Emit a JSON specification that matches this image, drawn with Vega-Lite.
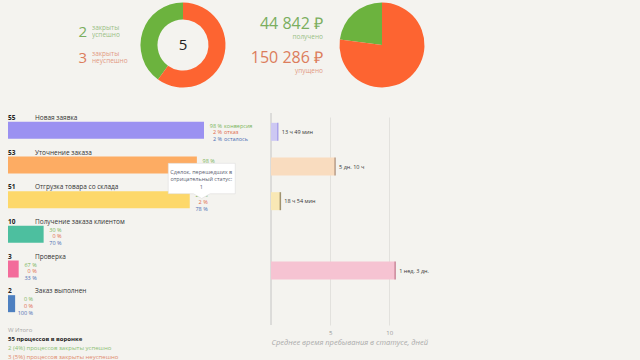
{
  "$schema": "https://vega.github.io/schema/vega-lite/v6.json",
  "background": "#f4f3ef",
  "padding": 0,
  "config": {"view": {"stroke": null}, "font": "Open Sans"},
  "datasets": {
    "stages": [
      {"stage": "Новая заявка", "count": 55, "conv": "98 %", "lost": "2 %", "remain": "2 %", "convWord": "конверсия", "lostWord": "отказ", "remainWord": "осталось", "days": 0.576, "time": "13 ч 49 мин"},
      {"stage": "Уточнение заказа", "count": 53, "conv": "98 %", "lost": "2 %", "remain": "0 %", "convWord": "", "lostWord": "", "remainWord": "", "days": 5.42, "time": "5 дн. 10 ч"},
      {"stage": "Отгрузка товара со склада", "count": 51, "conv": "20 %", "lost": "2 %", "remain": "78 %", "convWord": "", "lostWord": "", "remainWord": "", "days": 0.79, "time": "18 ч 54 мин"},
      {"stage": "Получение заказа клиентом", "count": 10, "conv": "30 %", "lost": "0 %", "remain": "70 %", "convWord": "", "lostWord": "", "remainWord": "", "days": null, "time": ""},
      {"stage": "Проверка", "count": 3, "conv": "67 %", "lost": "0 %", "remain": "33 %", "convWord": "", "lostWord": "", "remainWord": "", "days": 10.5, "time": "1 нед. 3 дн."},
      {"stage": "Заказ выполнен", "count": 2, "conv": "0 %", "lost": "0 %", "remain": "100 %", "convWord": "", "lostWord": "", "remainWord": "", "days": null, "time": ""}
    ],
    "counts": [
      {"outcome": "success", "n": 2, "value": "2", "label": "закрыты\nуспешно"},
      {"outcome": "fail", "n": 3, "value": "3", "label": "закрыты\nнеуспешно"}
    ],
    "money": [
      {"outcome": "success", "rub": 44842, "value": "44 842 ₽", "label": "получено"},
      {"outcome": "fail", "rub": 150286, "value": "150 286 ₽", "label": "упущено"}
    ],
    "footer": [
      {"line": 1, "text": "W  Итого"},
      {"line": 2, "text": "55 процессов в воронке"},
      {"line": 3, "text": "2 (4%) процессов закрыты успешно"},
      {"line": 4, "text": "3 (5%) процессов закрыты неуспешно"}
    ]
  },
  "spacing": 22,
  "vconcat": [
    {
      "bounds": "flush",
      "spacing": 0,
      "resolve": {"scale": {"color": "independent", "y": "independent", "x": "independent", "theta": "independent"}},
      "hconcat": [
        {
          "width": 138, "height": 90,
          "data": {"name": "counts"},
          "encoding": {
            "y": {"field": "outcome", "type": "nominal", "scale": {"type": "point", "domain": ["success", "fail"], "range": [31.5, 57.5], "padding": 0}, "axis": null},
            "color": {"field": "outcome", "type": "nominal", "scale": {"domain": ["success", "fail"], "range": ["#7aae5e", "#dc7d5c"]}, "legend": null}
          },
          "layer": [
            {"mark": {"type": "text", "align": "right", "baseline": "middle", "fontSize": 15, "dx": 18}, "encoding": {"text": {"field": "value"}}},
            {"mark": {"type": "text", "align": "left", "baseline": "middle", "fontSize": 6.5, "lineHeight": 7.5, "lineBreak": "\n", "dx": 23, "dy": -4, "opacity": 0.75}, "encoding": {"text": {"field": "label"}}}
          ]
        },
        {
          "width": 90, "height": 90,
          "layer": [
            {
              "data": {"name": "counts"},
              "mark": {"type": "arc", "innerRadius": 25.5, "outerRadius": 42.5},
              "encoding": {
                "theta": {"field": "n", "type": "quantitative"},
                "order": {"field": "outcome", "sort": "ascending"},
                "color": {"field": "outcome", "type": "nominal", "scale": {"domain": ["success", "fail"], "range": ["#6cb33e", "#fd6431"]}, "legend": null}
              }
            },
            {
              "data": {"values": [{"total": "5"}]},
              "mark": {"type": "text", "fontSize": 15, "color": "#222222", "baseline": "middle"},
              "encoding": {"text": {"field": "total"}}
            }
          ]
        },
        {
          "width": 109, "height": 90,
          "data": {"name": "money"},
          "encoding": {
            "y": {"field": "outcome", "type": "nominal", "scale": {"type": "point", "domain": ["success", "fail"], "range": [24, 57.5], "padding": 0}, "axis": null},
            "color": {"field": "outcome", "type": "nominal", "scale": {"domain": ["success", "fail"], "range": ["#7aae5e", "#dc7d5c"]}, "legend": null}
          },
          "layer": [
            {"mark": {"type": "text", "align": "right", "baseline": "middle", "fontSize": 16, "dx": 40.5}, "encoding": {"text": {"field": "value"}}},
            {"mark": {"type": "text", "align": "right", "baseline": "middle", "fontSize": 6.5, "dx": 40.5, "dy": 13, "opacity": 0.75}, "encoding": {"text": {"field": "label"}}}
          ]
        },
        {
          "width": 90, "height": 90,
          "data": {"name": "money"},
          "mark": {"type": "arc", "outerRadius": 42.5},
          "encoding": {
            "theta": {"field": "rub", "type": "quantitative"},
            "order": {"field": "outcome", "sort": "ascending"},
            "color": {"field": "outcome", "type": "nominal", "scale": {"domain": ["success", "fail"], "range": ["#6cb33e", "#fd6431"]}, "legend": null}
          }
        }
      ]
    },
    {
      "bounds": "flush",
      "spacing": 67,
      "resolve": {"scale": {"color": "independent", "y": "independent", "x": "independent"}},
      "hconcat": [
        {
          "width": 204, "height": 208,
          "resolve": {"scale": {"y": "independent", "color": "independent"}},
          "layer": [
            {
              "data": {"name": "stages"},
              "layer": [
                {
                  "mark": {"type": "bar", "height": 17},
                  "encoding": {
                    "x": {"field": "count", "type": "quantitative", "scale": {"domain": [0, 55], "range": [8, 204]}, "axis": null},
                    "y": {"field": "stage", "type": "nominal", "scale": {"domain": ["Новая заявка", "Уточнение заказа", "Отгрузка товара со склада", "Получение заказа клиентом", "Проверка", "Заказ выполнен"], "paddingInner": 0, "paddingOuter": 0}, "axis": null},
                    "color": {"field": "stage", "type": "nominal", "scale": {"domain": ["Новая заявка", "Уточнение заказа", "Отгрузка товара со склада", "Получение заказа клиентом", "Проверка", "Заказ выполнен"], "range": ["#9b91f1", "#fdac63", "#fdd86a", "#4dbf9f", "#f36c9b", "#4e80c0"]}, "legend": null}
                  }
                },
                {
                  "mark": {"type": "text", "align": "left", "baseline": "middle", "fontSize": 6.5, "fontWeight": "bold", "color": "#222222", "dy": 5},
                  "encoding": {
                    "x": {"datum": 0, "type": "quantitative"},
                    "y": {"field": "stage", "type": "nominal", "bandPosition": 0},
                    "text": {"field": "count"}
                  }
                },
                {
                  "mark": {"type": "text", "align": "left", "baseline": "middle", "fontSize": 6.5, "color": "#333333", "dx": 27, "dy": 5},
                  "encoding": {
                    "x": {"datum": 0, "type": "quantitative"},
                    "y": {"field": "stage", "type": "nominal", "bandPosition": 0},
                    "text": {"field": "stage"}
                  }
                },
                {
                  "mark": {"type": "text", "align": "right", "baseline": "middle", "fontSize": 5.5, "color": "#79b45a", "dx": 18, "dy": -4.5},
                  "encoding": {"x": {"field": "count", "type": "quantitative"}, "y": {"field": "stage", "type": "nominal"}, "text": {"field": "conv"}}
                },
                {
                  "mark": {"type": "text", "align": "left", "baseline": "middle", "fontSize": 5.5, "color": "#79b45a", "dx": 20, "dy": -4.5},
                  "encoding": {"x": {"field": "count", "type": "quantitative"}, "y": {"field": "stage", "type": "nominal"}, "text": {"field": "convWord"}}
                },
                {
                  "mark": {"type": "text", "align": "right", "baseline": "middle", "fontSize": 5.5, "color": "#e0694a", "dx": 18, "dy": 2},
                  "encoding": {"x": {"field": "count", "type": "quantitative"}, "y": {"field": "stage", "type": "nominal"}, "text": {"field": "lost"}}
                },
                {
                  "mark": {"type": "text", "align": "left", "baseline": "middle", "fontSize": 5.5, "color": "#e0694a", "dx": 20, "dy": 2},
                  "encoding": {"x": {"field": "count", "type": "quantitative"}, "y": {"field": "stage", "type": "nominal"}, "text": {"field": "lostWord"}}
                },
                {
                  "mark": {"type": "text", "align": "right", "baseline": "middle", "fontSize": 5.5, "color": "#4b6db3", "dx": 18, "dy": 9},
                  "encoding": {"x": {"field": "count", "type": "quantitative"}, "y": {"field": "stage", "type": "nominal"}, "text": {"field": "remain"}}
                },
                {
                  "mark": {"type": "text", "align": "left", "baseline": "middle", "fontSize": 5.5, "color": "#4b6db3", "dx": 20, "dy": 9},
                  "encoding": {"x": {"field": "count", "type": "quantitative"}, "y": {"field": "stage", "type": "nominal"}, "text": {"field": "remainWord"}}
                },
                {
                  "data": {"values": [{"stage": "Отгрузка товара со склада", "count": 51, "tip": "Сделок, перешедших в\nотрицательный статус:\n1"}]},
                  "mark": {"type": "point", "filled": true, "shape": "M-1,-0.418L1,-0.418L1,0.49L0.25,0.49L0,0.63L-0.25,0.49L-1,0.49Z", "size": 4489, "fill": "#ffffff", "stroke": "#d8d8d8", "strokeWidth": 0.5, "opacity": 1, "xOffset": 12, "yOffset": -5},
                  "encoding": {
                    "x": {"field": "count", "type": "quantitative"},
                    "y": {"field": "stage", "type": "nominal", "bandPosition": 0}
                  }
                },
                {
                  "data": {"values": [{"stage": "Отгрузка товара со склада", "count": 51, "tip": "Сделок, перешедших в\nотрицательный статус:\n1"}]},
                  "mark": {"type": "text", "align": "center", "baseline": "middle", "fontSize": 5.5, "lineHeight": 7.5, "lineBreak": "\n", "color": "#5a6070", "dx": 11.5, "dy": -10.5},
                  "encoding": {
                    "x": {"field": "count", "type": "quantitative"},
                    "y": {"field": "stage", "type": "nominal", "bandPosition": 0},
                    "text": {"field": "tip"}
                  }
                }
              ]
            },
            {
              "data": {"name": "footer"},
              "encoding": {
                "y": {"field": "line", "type": "ordinal", "scale": {"type": "point", "domain": [1, 2, 3, 4], "range": [216.5, 243.5], "padding": 0}, "axis": null},
                "color": {"field": "line", "type": "ordinal", "scale": {"domain": [1, 2, 3, 4], "range": ["#a8a8a8", "#222222", "#8cbf74", "#e08a6c"]}, "legend": null},
                "text": {"field": "text"}
              },
              "layer": [
                {"transform": [{"filter": "datum.line != 2"}], "mark": {"type": "text", "align": "left", "baseline": "middle", "fontSize": 6, "dx": -94}},
                {"transform": [{"filter": "datum.line == 2"}], "mark": {"type": "text", "align": "left", "baseline": "middle", "fontSize": 6, "fontWeight": "bold", "dx": -94}}
              ]
            }
          ]
        },
        {
          "width": 369, "height": 212,
          "layer": [
            {
              "data": {"values": [{"origin": 0}]},
              "mark": {"type": "rule", "color": "#c4c4c4", "strokeWidth": 1},
              "encoding": {"x": {"field": "origin", "type": "quantitative"}}
            },
            {
              "data": {"name": "stages"},
              "mark": {"type": "bar", "height": 18, "yOffset": 1.5},
              "encoding": {
                "x": {"field": "days", "type": "quantitative", "scale": {"domain": [0, 31.2], "nice": false}, "axis": {"values": [5, 10], "grid": true, "gridColor": "#e2e1dd", "domain": false, "ticks": false, "labelColor": "#999999", "labelFontSize": 6, "labelPadding": 4, "title": "Среднее время пребывания в статусе, дней", "titleFontSize": 7.5, "titleFontStyle": "italic", "titleFontWeight": "normal", "titleColor": "#aaaaaa", "titleAnchor": "start", "titleAlign": "left", "titlePadding": 3}},
                "y": {"field": "stage", "type": "nominal", "scale": {"domain": ["Новая заявка", "Уточнение заказа", "Отгрузка товара со склада", "Получение заказа клиентом", "Проверка", "Заказ выполнен"], "range": [0, 208], "paddingInner": 0, "paddingOuter": 0}, "axis": null},
                "fill": {"field": "stage", "type": "nominal", "scale": {"domain": ["Новая заявка", "Уточнение заказа", "Отгрузка товара со склада", "Получение заказа клиентом", "Проверка", "Заказ выполнен"], "range": ["#cdc8f3", "#f9dcbf", "#f9e8b5", "#b8e5d8", "#f6c3d2", "#b9cbe6"]}, "legend": null}
              }
            },
            {
              "data": {"name": "stages"},
              "mark": {"type": "tick", "thickness": 1.5, "size": 18, "yOffset": 1.5},
              "encoding": {
                "x": {"field": "days", "type": "quantitative"},
                "y": {"field": "stage", "type": "nominal"},
                "color": {"field": "stage", "type": "nominal", "scale": {"domain": ["Новая заявка", "Уточнение заказа", "Отгрузка товара со склада", "Получение заказа клиентом", "Проверка", "Заказ выполнен"], "range": ["#958be6", "#9c7f6a", "#7e6c42", "#3a9a80", "#b9687f", "#4a70b0"]}, "legend": null}
              }
            },
            {
              "data": {"name": "stages"},
              "mark": {"type": "text", "align": "left", "baseline": "middle", "fontSize": 5.5, "color": "#333333", "dx": 4, "dy": 1.5},
              "encoding": {
                "x": {"field": "days", "type": "quantitative"},
                "y": {"field": "stage", "type": "nominal"},
                "text": {"field": "time"}
              }
            }
          ]
        }
      ]
    }
  ]
}
